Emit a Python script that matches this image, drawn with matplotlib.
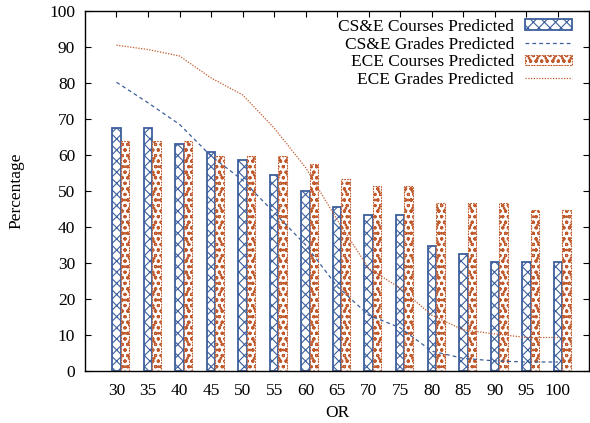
import numpy as np
import matplotlib.pyplot as plt

plt.rcParams['font.family'] = ['Liberation Serif', 'DejaVu Serif']
plt.rcParams['hatch.linewidth'] = 0.8

# OR thresholds and percentages per group
thresholds = [30, 35, 40, 45, 50, 55, 60, 65, 70, 75, 80, 85, 90, 95, 100]
cse_courses = [67.5, 67.5, 63.0, 60.7, 58.6, 54.4, 50.0, 45.6, 43.4, 43.4, 34.7, 32.5, 30.4, 30.4, 30.4]
cse_grades = [80.2, 74.5, 68.5, 59.7, 53.0, 44.0, 35.0, 23.5, 15.5, 12.0, 5.5, 3.5, 2.8, 2.5, 2.5]
ece_courses = [63.8, 63.8, 63.8, 59.7, 59.7, 59.7, 57.4, 53.3, 51.4, 51.4, 46.8, 46.8, 46.8, 44.6, 44.6]
ece_grades = [90.5, 89.3, 87.5, 81.4, 76.7, 67.5, 56.5, 42.0, 28.5, 23.0, 15.5, 11.4, 10.3, 9.3, 9.3]

blue = '#3c5f9c'
orange = '#c05a2c'
fs = 12.5

fig = plt.figure(figsize=(5.9, 4.23), dpi=100)
ax = fig.add_axes([0.144, 0.123, 0.855, 0.851])

x = np.arange(len(thresholds))
w = 0.27

b1 = ax.bar(x, cse_courses, w, color='white', edgecolor=blue, hatch='xxx',
            linewidth=1.3, label='CS&E Courses Predicted', zorder=2)
l1, = ax.plot(x, cse_grades, color=blue, linestyle=(0, (3, 2.5)), linewidth=0.9,
              label='CS&E Grades Predicted', zorder=3)
b2 = ax.bar(x + w, ece_courses, w, color='white', edgecolor=orange, hatch='ooo..',
            linewidth=0.8, linestyle=(0, (1.5, 1)), label='ECE Courses Predicted', zorder=2)
l2, = ax.plot(x, ece_grades, color=orange, linestyle=(0, (1, 1.2)), linewidth=0.9,
              label='ECE Grades Predicted', zorder=3)

ax.set_xlim(-1, 15)
ax.set_ylim(0, 100)
ax.set_xticks(x)
ax.set_xticklabels([str(t) for t in thresholds])
ax.set_yticks(np.arange(0, 101, 10))
ax.tick_params(direction='in', length=4, width=0.8, labelsize=fs,
               top=True, right=True, pad=7)
ax.tick_params(axis='x', pad=9)
for s in ax.spines.values():
    s.set_linewidth(1.0)

ax.set_xlabel('OR', fontsize=fs, labelpad=4)
ax.set_ylabel('Percentage', fontsize=fs, labelpad=18)

ax.legend([b1, l1, b2, l2], [h.get_label() for h in (b1, l1, b2, l2)],
          loc='upper right', bbox_to_anchor=(0.99, 1.012), frameon=False,
          markerfirst=False, fontsize=fs, handlelength=2.7, handleheight=0.55,
          labelspacing=0.1, borderpad=0.2, handletextpad=0.65)

fig.savefig('out.png', dpi=100)
